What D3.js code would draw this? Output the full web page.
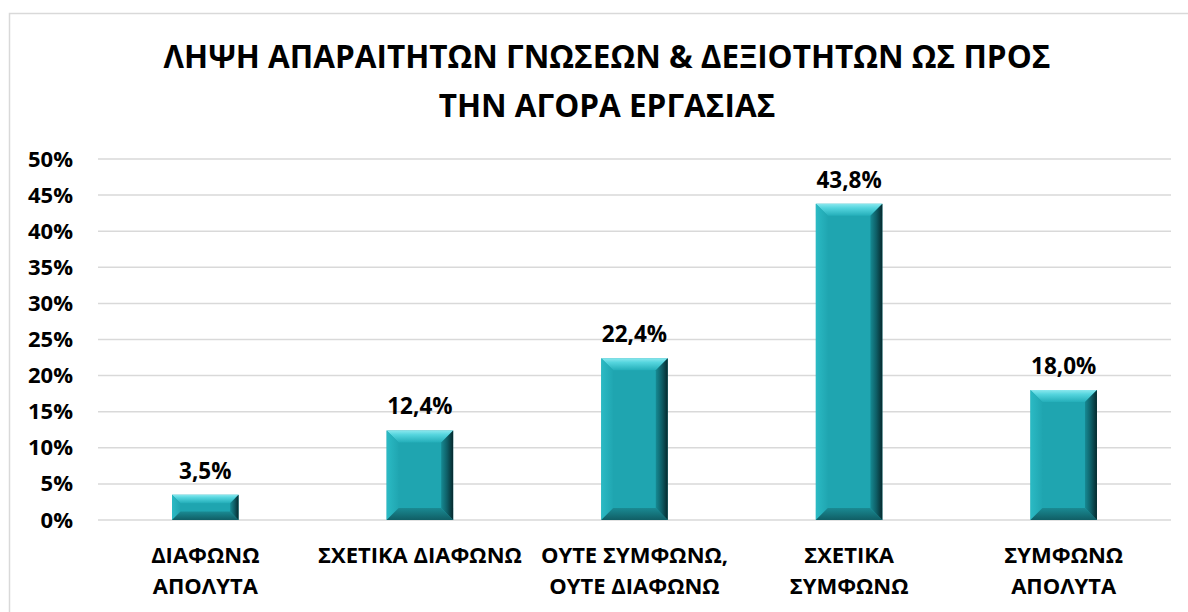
<!DOCTYPE html>
<html>
<head>
<meta charset="utf-8">
<script src="https://cdn.jsdelivr.net/npm/d3@7"></script>
<style>
  body { margin: 0; background: #fff; }
  svg { display: block; font-family: "Open Sans", "Noto Sans", sans-serif; font-weight: 700; }
</style>
</head>
<body>
<svg id="chart" width="1188" height="612"></svg>
<script>
// chart data
const categories = ["ΔΙΑΦΩΝΩ ΑΠΟΛΥΤΑ", "ΣΧΕΤΙΚΑ ΔΙΑΦΩΝΩ", "ΟΥΤΕ ΣΥΜΦΩΝΩ, ΟΥΤΕ ΔΙΑΦΩΝΩ", "ΣΧΕΤΙΚΑ ΣΥΜΦΩΝΩ", "ΣΥΜΦΩΝΩ ΑΠΟΛΥΤΑ"];
const categoryLines = [["ΔΙΑΦΩΝΩ", "ΑΠΟΛΥΤΑ"], ["ΣΧΕΤΙΚΑ ΔΙΑΦΩΝΩ"], ["ΟΥΤΕ ΣΥΜΦΩΝΩ,", "ΟΥΤΕ ΔΙΑΦΩΝΩ"], ["ΣΧΕΤΙΚΑ", "ΣΥΜΦΩΝΩ"], ["ΣΥΜΦΩΝΩ", "ΑΠΟΛΥΤΑ"]];
const values = [3.5, 12.4, 22.4, 43.8, 18.0];
const yTicks = [0, 5, 10, 15, 20, 25, 30, 35, 40, 45, 50];
const titleLines = ["ΛΗΨΗ ΑΠΑΡΑΙΤΗΤΩΝ ΓΝΩΣΕΩΝ & ΔΕΞΙΟΤΗΤΩΝ ΩΣ ΠΡΟΣ", "ΤΗΝ ΑΓΟΡΑ ΕΡΓΑΣΙΑΣ"];

const svg = d3.select("#chart");
const W = 1188, H = 612;
const margin = { top: 159, right: 17, bottom: 92, left: 98 };

// outer frame
svg.append("rect")
    .attr("x", 9.5).attr("y", 13.5)
    .attr("width", W + 20).attr("height", H + 20)
    .attr("fill", "#fff")
    .attr("stroke", "#d9d9d9")
    .attr("stroke-width", 1.5);

const x = d3.scaleBand()
    .domain(categories)
    .range([margin.left, W - margin.right])
    .paddingInner(0.69)
    .paddingOuter(0.345);

const y = d3.scaleLinear()
    .domain([0, 50])
    .range([H - margin.bottom, margin.top]);

// gridlines
svg.append("g")
    .selectAll("line")
    .data(yTicks)
    .join("line")
    .attr("x1", margin.left).attr("x2", W - margin.right)
    .attr("y1", d => y(d)).attr("y2", d => y(d))
    .attr("stroke", "#d9d9d9")
    .attr("stroke-width", 1.5);

// y axis labels
const yAxis = d3.axisLeft(y)
    .tickValues(yTicks)
    .tickFormat(d => d + "%")
    .tickSize(0)
    .tickPadding(25);
const yg = svg.append("g")
    .attr("transform", `translate(${margin.left},0)`)
    .call(yAxis);
yg.select(".domain").remove();
yg.selectAll("text")
    .attr("font-family", "Open Sans")
    .attr("font-weight", 700)
    .attr("font-size", 22)
    .attr("fill", "#000");

// bevel gradients
const defs = svg.append("defs");
function grad(id, x2, y2, stops) {
    const g = defs.append("linearGradient").attr("id", id)
        .attr("x1", 0).attr("y1", 0).attr("x2", x2).attr("y2", y2);
    stops.forEach(s => g.append("stop").attr("offset", s[0]).attr("stop-color", s[1]));
}
grad("gTop", 0, 1, [[0, "#8ae8ee"], [0.35, "#55d5de"], [1, "#24aeb9"]]);
grad("gRight", 1, 0, [[0, "#168a93"], [0.5, "#0e5e66"], [1, "#06292d"]]);
grad("gLeft", 1, 0, [[0, "#2bbac4"], [1, "#20a6b1"]]);
grad("gBottom", 0, 1, [[0, "#1a8a93"], [1, "#105e65"]]);

const bw = x.bandwidth();
const bars = svg.append("g")
    .selectAll("g")
    .data(values.map((v, i) => ({ cat: categories[i], value: v })))
    .join("g");

bars.each(function (d) {
    const g = d3.select(this);
    const x0 = x(d.cat), x1 = x0 + bw;
    const y0 = y(d.value), y1 = y(0);
    const b = Math.min(12, (y1 - y0) / 3, bw / 5);
    g.append("rect")
        .attr("x", x0).attr("y", y0)
        .attr("width", bw).attr("height", y1 - y0)
        .attr("fill", "#1fa5b0");
    const poly = (pts, fill) => g.append("path")
        .attr("d", "M" + pts.map(p => p.join(",")).join("L") + "Z")
        .attr("fill", fill);
    poly([[x0, y0], [x1, y0], [x1 - b, y0 + b], [x0 + b, y0 + b]], "url(#gTop)");
    poly([[x0, y0], [x0 + b, y0 + b], [x0 + b, y1 - b], [x0, y1]], "url(#gLeft)");
    poly([[x0, y1], [x0 + b, y1 - b], [x1 - b, y1 - b], [x1, y1]], "url(#gBottom)");
    poly([[x1, y0], [x1, y1], [x1 - b, y1 - b], [x1 - b, y0 + b]], "url(#gRight)");
});

// data labels
bars.append("text")
    .attr("x", d => x(d.cat) + bw / 2)
    .attr("y", d => y(d.value) - 16)
    .attr("text-anchor", "middle")
    .attr("font-size", 22.5)
    .attr("fill", "#000")
    .text(d => d.value.toFixed(1).replace(".", ",") + "%");

// category labels
const cg = svg.append("g")
    .selectAll("text")
    .data(categories)
    .join("text")
    .attr("text-anchor", "middle")
    .attr("font-size", 22)
    .attr("fill", "#000");
cg.selectAll("tspan")
    .data((d, i) => categoryLines[i].map(t => ({ t, cat: d })))
    .join("tspan")
    .attr("x", d => x(d.cat) + bw / 2)
    .attr("y", (d, j) => 563 + j * 31)
    .text(d => d.t);

// title
svg.append("text")
    .attr("text-anchor", "middle")
    .attr("font-size", 31.5)
    .attr("fill", "#000")
    .selectAll("tspan")
    .data(titleLines)
    .join("tspan")
    .attr("x", 607)
    .attr("y", (d, i) => 68 + i * 49)
    .text(d => d);
</script>
</body>
</html>
